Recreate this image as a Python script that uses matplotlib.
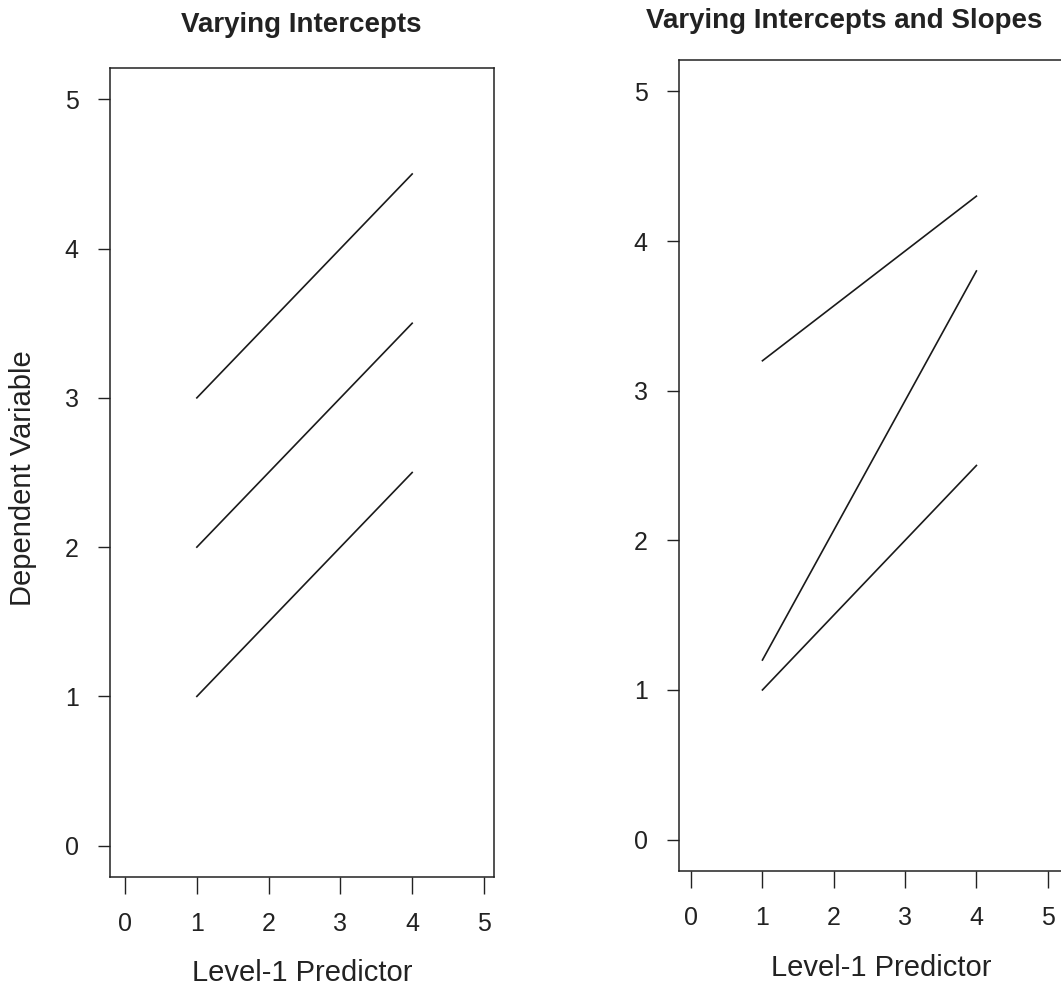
import numpy as np
from matplotlib import pyplot as plt

plt.rcParams['font.family'] = ['Liberation Sans', 'DejaVu Sans']

# level-1 predictor values where each group line starts and ends
x_pts = [1, 4]

# left panel: varying intercepts (same slope)
left_start = [3.0, 2.0, 1.0]
left_end = [4.5, 3.5, 2.5]

# right panel: varying intercepts and slopes
right_start = [3.2, 1.2, 1.0]
right_end = [4.3, 3.8, 2.5]

ticks = [0, 1, 2, 3, 4, 5]

W, H = 1061, 989
fig = plt.figure(figsize=(W / 100, H / 100), dpi=100)

def pos(x0, x1, top, bottom):
    return [x0 / W, 1 - bottom / H, (x1 - x0) / W, (bottom - top) / H]

def funcPanel(ax, starts, ends, xlim):
    for s, e in zip(starts, ends):
        ax.plot(x_pts, [s, e], color='#1a1a1a', lw=1.2)
    ax.set_xlim(*xlim)
    ax.set_ylim(-0.21, 5.21)
    ax.set_xticks(ticks)
    ax.set_yticks(ticks)
    ax.tick_params(axis='x', direction='out', length=12, width=1.0,
                   pad=13, labelsize=18, colors='#222222')
    ax.tick_params(axis='y', direction='out', length=8.5, width=1.0,
                   pad=14, labelsize=18, colors='#222222')
    for sp in ax.spines.values():
        sp.set_linewidth(1.1)
        sp.set_color('#222222')

ax1 = fig.add_axes(pos(110, 494, 68, 877))
funcPanel(ax1, left_start, left_end, (-0.21, 5.14))

ax2 = fig.add_axes(pos(679, 1062, 60, 871))
funcPanel(ax2, right_start, right_end, (-0.17, 5.2))

# titles and axis labels
fig.text(301 / W, 1 - 32 / H, 'Varying Intercepts', ha='center', va='baseline',
         fontsize=20, fontweight='bold', color='#222222')
fig.text(844 / W, 1 - 28 / H, 'Varying Intercepts and Slopes', ha='center',
         va='baseline', fontsize=20, fontweight='bold', color='#222222')
fig.text(302 / W, 1 - 973 / H, 'Level-1 Predictor', ha='center', va='center',
         fontsize=21, color='#222222')
fig.text(881 / W, 1 - 968 / H, 'Level-1 Predictor', ha='center', va='center',
         fontsize=21, color='#222222')
fig.text(23 / W, 1 - 478 / H, 'Dependent Variable', ha='center', va='center',
         rotation=90, fontsize=21, color='#222222')

plt.savefig('out.png', dpi=100)
